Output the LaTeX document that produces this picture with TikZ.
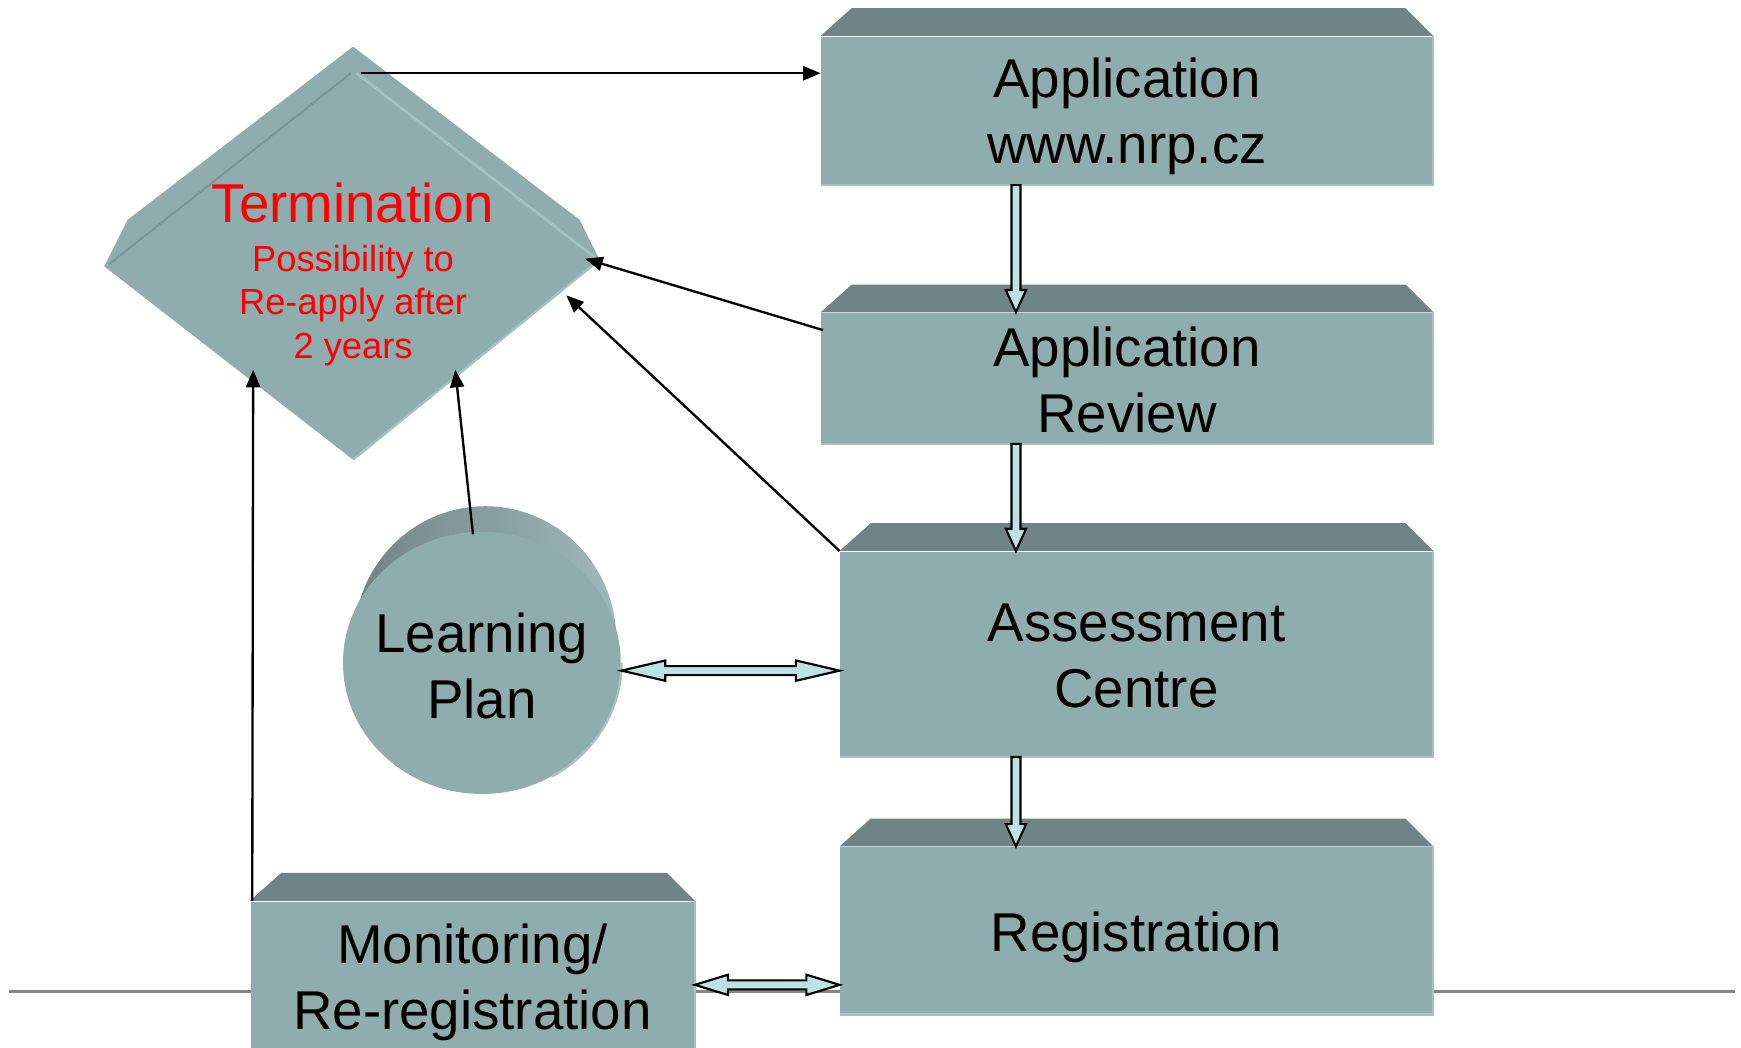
\documentclass[tikz,border=0pt]{standalone}
\usepackage{fontspec}
\setmainfont{Liberation Sans}
\usetikzlibrary{arrows.meta,calc,shapes.geometric}
\definecolor{frontc}{HTML}{8FACAE}
\definecolor{topc}{HTML}{6F8486}
\definecolor{edgec}{HTML}{A3C2C4}
\definecolor{blkc}{HTML}{BDE2E5}
\definecolor{linec}{HTML}{858585}
\tikzset{
  boxf/.style={fill=frontc, inner sep=0pt},
  boxtext/.style={inner sep=0pt, align=center, font=\fontsize{14pt}{16.8pt}\selectfont},
  conn/.style={line width=0.6pt, -{Triangle[length=4.5pt,width=3.6pt]}},
  blk/.style={fill=blkc, draw=black, line width=0.55pt, line join=miter},
  topf/.style={fill=topc},
  rimline/.style={draw=edgec, line width=0.6pt},
  redbig/.style={text=red, font=\fontsize{14pt}{16.8pt}\selectfont, inner sep=0pt},
  redsmall/.style={text=red, align=center, font=\fontsize{9.3pt}{11.1pt}\selectfont, inner sep=0pt},
}
\newcommand\topface[1]{\fill[topf] (#1.north west) -- ([shift={(28,-25)}]#1.north west) -- ([shift={(-25,-25)}]#1.north east) -- (#1.north east) -- cycle;
  \draw[rimline] (#1.north east) -- (#1.south east) -- (#1.south west);}
\newcommand\vblk[2]{\draw[blk] let \p1=(#1), \p2=(#2) in
  (\x1-1.15pt,\y1) -- (\x1-1.15pt,\y2+5.7pt) -- (\x1-2.6pt,\y2+5.7pt) -- (\x1,\y2) -- (\x1+2.6pt,\y2+5.7pt) -- (\x1+1.15pt,\y2+5.7pt) -- (\x1+1.15pt,\y1) -- cycle;}
\newcommand\hdbl[3]{\draw[blk] let \p1=(#1), \p2=(#2) in
  (\x1,\y1) -- (\x1+#3,\y1+2.6pt) -- (\x1+#3,\y1+1.15pt) -- (\x2-#3,\y1+1.15pt) -- (\x2-#3,\y1+2.6pt) -- (\x2,\y1) -- (\x2-#3,\y1-2.6pt) -- (\x2-#3,\y1-1.15pt) -- (\x1+#3,\y1-1.15pt) -- (\x1+#3,\y1-2.6pt) -- cycle;}
\begin{document}
\begin{tikzpicture}[x=0.01cm,y=-0.01cm]
\useasboundingbox (0,0) rectangle (1568,943);
% base line
\draw[linec, line width=0.9pt] (8,893) -- (1563,893);
% boxes
\node[boxf, minimum width=5.5cm, minimum height=1.33cm] (app) at (1015,99.5) {};
\node[boxf, minimum width=5.5cm, minimum height=1.17cm] (rev) at (1015,340.5) {};
\node[boxf, minimum width=5.33cm, minimum height=1.84cm] (ac) at (1023.5,589) {};
\node[boxf, minimum width=5.33cm, minimum height=1.5cm] (reg) at (1023.5,838) {};
\node[boxf, minimum width=3.99cm, minimum height=1.45cm] (mon) at (425.5,884.5) {};
\topface{app}
\topface{rev}
\topface{ac}
\topface{reg}
\topface{mon}
\node[boxtext] (apptxt) at (1015,105) {Application\\www.nrp.cz};
\node[boxtext] (revtxt) at (1015,342) {Application\\Review};
\node[boxtext] (actxt) at (1023.5,591) {Assessment\\Centre};
\node[boxtext] (regtxt) at (1023.5,844) {Registration};
\node[boxtext] (montxt) at (425.5,884.5) {Monitoring/\\Re-registration};
% termination diamond
\fill[frontc] (318,42) -- (522,198) -- (540,234) -- (318,414) -- (94,240) -- (115,198) -- cycle;
\draw[edgec, line width=0.7pt] (321,66) -- (536,232);
\draw[rimline] (540,234) -- (318,414);
\draw[draw=topc!60!frontc, line width=0.5pt] (316,66) -- (98,238);
\node[redbig] (term) at (318,182.5) {Termination};
\node[redsmall] (termsub) at (318,275) {Possibility to\\Re-apply after\\2 years};
% learning plan cylinder
\shade[left color=topc, right color=frontc!85!white] (437,576) ellipse [x radius=1.18cm, y radius=1.2cm];
\node[boxf, ellipse, minimum width=2.5cm, minimum height=2.36cm] (lp) at (434,597) {};
\draw[rimline] ([shift={(0,0)}]lp.east) arc[start angle=0, end angle=-60, x radius=1.25cm, y radius=1.18cm];
\node[boxtext] (lptxt) at (434,600) {Learning\\Plan};
% coordinates for connector ends
\coordinate (vx) at (915,0);
\coordinate (h1) at (0,604);
\coordinate (h2) at (0,887);
\coordinate (tq) at (325,66);
\coordinate (tR) at (527,233);
\coordinate (tR2) at (510,266);
\coordinate (tB) at (410,333);
\coordinate (tL) at (228,333);
% black connectors
\draw[conn] (tq) -- (app.west |- tq);
\draw[conn] ([shift={(2,16)}]rev.north west) -- (tR);
\draw[conn] (ac.north west) -- (tR2);
\draw[conn] ([shift={(-8,3)}]lp.north) -- (tB);
\draw[conn] ([shift={(2,0)}]mon.north west) -- (tL);
% block arrows
\vblk{app.south -| vx}{rev.north -| vx}
\vblk{rev.south -| vx}{ac.north -| vx}
\vblk{ac.south -| vx}{reg.north -| vx}
\hdbl{lp.east |- h1}{ac.west |- h1}{11.2pt}
\hdbl{mon.east |- h2}{reg.west |- h2}{8.5pt}
\end{tikzpicture}
\end{document}
